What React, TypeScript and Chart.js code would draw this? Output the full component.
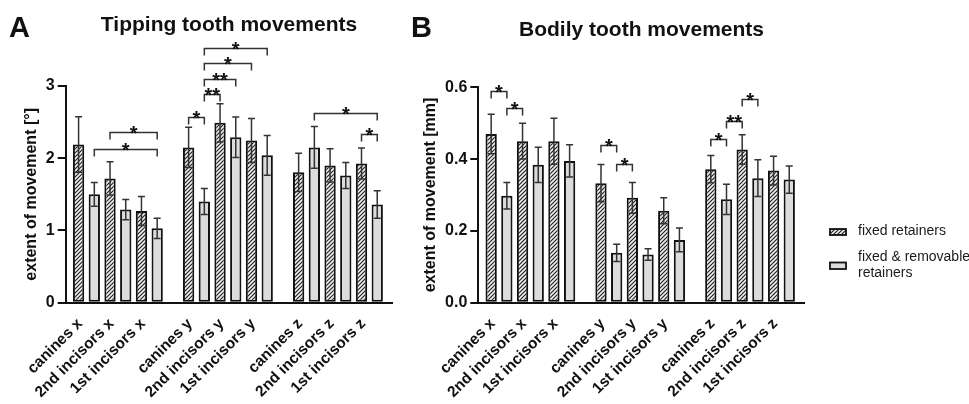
import React, { useEffect, useRef } from 'react';
import { Chart, registerables } from 'chart.js';

Chart.register(...registerables);

const FONT = '"Liberation Sans", Arial, Helvetica, sans-serif';

// ---------- data ----------
const categories = [
  'canines x', '2nd incisors x', '1st incisors x',
  'canines y', '2nd incisors y', '1st incisors y',
  'canines z', '2nd incisors z', '1st incisors z',
];
// x positions of the category groups (gaps between x / y / z blocks)
const categoryPositions = [0, 1, 2, 3.5, 4.5, 5.5, 7, 8, 9];
const seriesNames = ['fixed retainers', 'fixed & removable retainers'];

// Panel A: tipping (degrees)
const tippingFixed = [2.19, 1.72, 1.27, 2.15, 2.49, 2.245, 1.805, 1.9, 1.926];
const tippingFixedErr = [0.385, 0.23, 0.2, 0.28, 0.265, 0.305, 0.265, 0.23, 0.214];
const tippingRemovable = [1.5, 1.29, 1.03, 1.4, 2.29, 2.04, 2.15, 1.76, 1.36];
const tippingRemovableErr = [0.165, 0.14, 0.14, 0.18, 0.28, 0.275, 0.29, 0.18, 0.19];
const tippingTicks = [0, 1, 2, 3];

// Panel B: bodily (mm)
const bodilyFixed = [0.47, 0.45, 0.45, 0.333, 0.292, 0.256, 0.372, 0.427, 0.368];
const bodilyFixedErr = [0.055, 0.05, 0.064, 0.052, 0.043, 0.036, 0.038, 0.041, 0.04];
const bodilyRemovable = [0.298, 0.384, 0.395, 0.139, 0.134, 0.175, 0.288, 0.347, 0.343];
const bodilyRemovableErr = [0.037, 0.049, 0.045, 0.024, 0.016, 0.033, 0.042, 0.051, 0.038];
const bodilyTicks = [0, 0.2, 0.4, 0.6];

// significance brackets: [from bar, to bar, level (data units), label]
// bar index = category * 2 + series
const tippingBrackets: [number, number, number, string][] = [
  [2, 5, 2.37, '*'],
  [1, 5, 2.13, '*'],
  [6, 7, 2.575, '*'],
  [7, 8, 2.885, '**'],
  [7, 9, 3.1, '**'],
  [7, 10, 3.315, '*'],
  [7, 11, 3.52, '*'],
  [13, 17, 2.62, '*'],
  [16, 17, 2.34, '*'],
];
const bodilyBrackets: [number, number, number, string][] = [
  [0, 1, 0.59, '*'],
  [1, 2, 0.541, '*'],
  [6, 7, 0.439, '*'],
  [7, 8, 0.385, '*'],
  [12, 13, 0.455, '*'],
  [13, 14, 0.506, '**'],
  [14, 15, 0.567, '*'],
];

// ---------- helpers ----------
function makeHatch(): CanvasPattern | string {
  const c = document.createElement('canvas');
  const s = 4;
  c.width = s;
  c.height = s;
  const g = c.getContext('2d');
  if (!g) return '#eee';
  g.fillStyle = '#f0f0f0';
  g.fillRect(0, 0, s, s);
  g.strokeStyle = '#222';
  g.lineWidth = 1.2;
  g.beginPath();
  g.moveTo(-1, s + 1); g.lineTo(s + 1, -1);
  g.moveTo(-1, 1); g.lineTo(1, -1);
  g.moveTo(s - 1, s + 1); g.lineTo(s + 1, s - 1);
  g.stroke();
  return g.createPattern(c, 'repeat') || '#eee';
}

interface PanelCfg {
  fixed: number[]; fixedErr: number[];
  removable: number[]; removableErr: number[];
  ticks: number[]; decimals: number; yTitle: string;
  brackets: [number, number, number, string][];
  letter: string; letterX: number; letterY: number;
  title: string; titleX: number; titleY: number;
  padLeft: number; yWidth: number; padTop: number; padRight: number;
  legend: boolean;
}

const ZERO_Y = 302.7;
const H = 404;

function makeConfig(cfg: PanelCfg, hatch: CanvasPattern | string): any {
  const errs = [cfg.fixedErr, cfg.removableErr];

  const errorBars = {
    id: 'errorBars',
    afterDatasetsDraw(chart: any) {
      const { ctx } = chart;
      const ys = chart.scales.y;
      ctx.save();
      ctx.strokeStyle = '#333';
      ctx.lineWidth = 1.5;
      for (let ds = 0; ds < 2; ds++) {
        const meta = chart.getDatasetMeta(ds);
        meta.data.forEach((el: any, i: number) => {
          const v = chart.data.datasets[ds].data[i].y;
          const e = errs[ds][i];
          const yt = ys.getPixelForValue(v + e);
          const yb = ys.getPixelForValue(v - e);
          const cap = 3.5;
          ctx.beginPath();
          ctx.moveTo(el.x, yt); ctx.lineTo(el.x, yb);
          ctx.moveTo(el.x - cap, yt); ctx.lineTo(el.x + cap, yt);
          ctx.moveTo(el.x - cap, yb); ctx.lineTo(el.x + cap, yb);
          ctx.stroke();
        });
      }
      ctx.restore();
    },
  };

  const brackets = {
    id: 'brackets',
    afterDatasetsDraw(chart: any) {
      const { ctx } = chart;
      const ys = chart.scales.y;
      ctx.save();
      ctx.strokeStyle = '#333';
      ctx.fillStyle = '#111';
      ctx.lineWidth = 1.5;
      ctx.font = `bold 20px ${FONT}`;
      ctx.textAlign = 'center';
      ctx.textBaseline = 'alphabetic';
      cfg.brackets.forEach(([a, b, level, label]) => {
        const ea = chart.getDatasetMeta(a % 2).data[Math.floor(a / 2)];
        const eb = chart.getDatasetMeta(b % 2).data[Math.floor(b / 2)];
        const y = Math.round(ys.getPixelForValue(level)) + 0.5;
        const drop = 7;
        ctx.beginPath();
        ctx.moveTo(ea.x, y + drop);
        ctx.lineTo(ea.x, y);
        ctx.lineTo(eb.x, y);
        ctx.lineTo(eb.x, y + drop);
        ctx.stroke();
        ctx.fillText(label, (ea.x + eb.x) / 2, y + 7.5);
      });
      ctx.restore();
    },
  };

  const decorations = {
    id: 'decorations',
    afterDraw(chart: any) {
      const { ctx } = chart;
      ctx.save();
      ctx.fillStyle = '#111';
      ctx.textBaseline = 'alphabetic';
      ctx.textAlign = 'left';
      ctx.font = `bold 29px ${FONT}`;
      ctx.fillText(cfg.letter, cfg.letterX, cfg.letterY);
      ctx.textAlign = 'center';
      ctx.font = `bold 21px ${FONT}`;
      ctx.fillText(cfg.title, cfg.titleX, cfg.titleY);
      if (cfg.legend) {
        const lx = 430;
        ctx.lineWidth = 1.8;
        ctx.strokeStyle = '#111';
        ctx.fillStyle = hatch as any;
        ctx.fillRect(lx, 229, 16, 6);
        ctx.strokeRect(lx, 229, 16, 6);
        ctx.fillStyle = '#dcdcdc';
        ctx.fillRect(lx, 262.5, 16, 6.5);
        ctx.strokeRect(lx, 262.5, 16, 6.5);
        ctx.fillStyle = '#1a1a1a';
        ctx.textAlign = 'left';
        ctx.textBaseline = 'middle';
        ctx.font = `14px ${FONT}`;
        ctx.fillText(seriesNames[0], 458, 231.5);
        ctx.fillText('fixed & removable', 458, 257);
        ctx.fillText('retainers', 458, 273.5);
      }
      ctx.restore();
    },
  };

  const yTickFont = { family: FONT, size: 16, weight: 'bold' as const };
  const xTickFont = { family: FONT, size: 15.5, weight: 'bold' as const };

  return {
    type: 'bar',
    data: {
      datasets: [
        {
          label: seriesNames[0],
          data: categoryPositions.map((x, i) => ({ x, y: cfg.fixed[i] })),
          backgroundColor: hatch,
          borderColor: '#111',
          borderWidth: 2,
          borderSkipped: false,
          barPercentage: 0.72,
          categoryPercentage: 1,
        },
        {
          label: seriesNames[1],
          data: categoryPositions.map((x, i) => ({ x, y: cfg.removable[i] })),
          backgroundColor: '#dcdcdc',
          borderColor: '#111',
          borderWidth: 2,
          borderSkipped: false,
          barPercentage: 0.72,
          categoryPercentage: 1,
        },
      ],
    },
    options: {
      responsive: false,
      animation: false,
      events: [],
      layout: { padding: { left: cfg.padLeft, top: cfg.padTop, right: cfg.padRight, bottom: 0 } },
      plugins: {
        legend: { display: false },
        tooltip: { enabled: false },
        title: { display: false },
      },
      scales: {
        x: {
          type: 'linear',
          min: -0.66,
          max: 9.72,
          offset: false,
          afterBuildTicks: (s: any) => {
            s.ticks = categoryPositions.map((p) => ({ value: p - 0.2 }));
          },
          afterFit: (s: any) => {
            s.height = H - ZERO_Y;
          },
          ticks: {
            autoSkip: false,
            minRotation: 45,
            maxRotation: 45,
            padding: 12,
            font: xTickFont,
            color: '#111',
            callback: (_v: any, i: number) => categories[i],
          },
          grid: { display: false, drawTicks: false, offset: false },
          border: { display: true, color: '#111', width: 2 },
        },
        y: {
          type: 'linear',
          min: cfg.ticks[0],
          max: cfg.ticks[cfg.ticks.length - 1],
          afterBuildTicks: (s: any) => {
            s.ticks = cfg.ticks.map((v) => ({ value: v }));
          },
          afterFit: (s: any) => {
            s.width = cfg.yWidth;
          },
          ticks: {
            padding: 3,
            font: yTickFont,
            color: '#111',
            callback: (v: any) => Number(v).toFixed(cfg.decimals),
          },
          grid: {
            display: true,
            drawOnChartArea: false,
            drawTicks: true,
            tickLength: 8,
            color: '#111',
            lineWidth: 2,
          },
          border: { display: true, color: '#111', width: 2 },
          title: {
            display: true,
            text: cfg.yTitle,
            font: { family: FONT, size: 16, weight: 'bold' },
            color: '#111',
            padding: 0,
          },
        },
      },
    },
    plugins: [errorBars, brackets, decorations],
  };
}

export default function App() {
  const refA = useRef<HTMLCanvasElement>(null);
  const refB = useRef<HTMLCanvasElement>(null);

  useEffect(() => {
    const hatch = makeHatch();
    const a = new Chart(
      refA.current as HTMLCanvasElement,
      makeConfig(
        {
          fixed: tippingFixed, fixedErr: tippingFixedErr,
          removable: tippingRemovable, removableErr: tippingRemovableErr,
          ticks: tippingTicks, decimals: 0, yTitle: 'extent of movement [°]',
          brackets: tippingBrackets,
          letter: 'A', letterX: 9, letterY: 37,
          title: 'Tipping tooth movements', titleX: 229, titleY: 31,
          padLeft: 22.4, yWidth: 43.3, padTop: 86, padRight: 8,
          legend: false,
        },
        hatch,
      ),
    );
    const b = new Chart(
      refB.current as HTMLCanvasElement,
      makeConfig(
        {
          fixed: bodilyFixed, fixedErr: bodilyFixedErr,
          removable: bodilyRemovable, removableErr: bodilyRemovableErr,
          ticks: bodilyTicks, decimals: 1, yTitle: 'extent of movement [mm]',
          brackets: bodilyBrackets,
          letter: 'B', letterX: 11, letterY: 37,
          title: 'Bodily tooth movements', titleX: 241.5, titleY: 36,
          padLeft: 21.4, yWidth: 56.9, padTop: 87.3, padRight: 165,
          legend: true,
        },
        hatch,
      ),
    );
    return () => {
      a.destroy();
      b.destroy();
    };
  }, []);

  return (
    <div style={{ position: 'fixed', left: 0, top: 0, width: 969, height: 404, background: '#fff' }}>
      <canvas
        ref={refA}
        width={400}
        height={404}
        style={{ position: 'absolute', left: 0, top: 0, width: 400, height: 404 }}
      />
      <canvas
        ref={refB}
        width={569}
        height={404}
        style={{ position: 'absolute', left: 400, top: 0, width: 569, height: 404 }}
      />
    </div>
  );
}
